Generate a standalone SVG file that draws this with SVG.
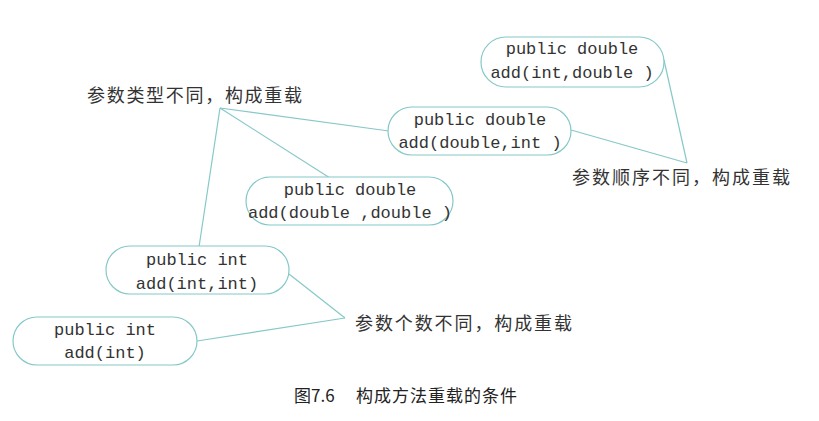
<svg xmlns="http://www.w3.org/2000/svg" width="819" height="421" viewBox="0 0 819 421">
<style>
.node rect{fill:#fff;stroke:#86c8c8;stroke-width:1.2}
.code{font-family:"Liberation Mono","DejaVu Sans Mono",monospace;font-size:17px;fill:#333;text-anchor:middle}
.lbl{font-family:"Noto Sans CJK SC",sans-serif;font-size:18px;fill:#333}
.cap{font-family:"Noto Sans CJK SC",sans-serif;font-size:17px;fill:#222}
#connectors line{stroke:#86c8c8;stroke-width:1.2}
</style>
<rect width="819" height="421" fill="#fff"/>
<g id="connectors">
<line x1="220" y1="108" x2="389" y2="131"/>
<line x1="220" y1="108" x2="330" y2="178"/>
<line x1="220" y1="108" x2="199" y2="247"/>
<line x1="571" y1="130" x2="687" y2="163"/>
<line x1="664" y1="60" x2="687" y2="163"/>
<line x1="289" y1="274" x2="345" y2="318"/>
<line x1="197" y1="341" x2="345" y2="318"/>
</g>
<g id="n1" class="node"><rect x="481" y="37" width="183" height="50" rx="25"/><text class="code" x="572" y="54">public double</text><text class="code" x="572" y="78">add(int,double )</text></g>
<g id="n2" class="node"><rect x="388" y="107" width="183" height="48" rx="24"/><text class="code" x="480" y="125">public double</text><text class="code" x="480" y="148">add(double,int )</text></g>
<g id="n3" class="node"><rect x="246" y="177" width="207" height="48" rx="24"/><text class="code" x="350" y="195">public double</text><text class="code" x="350" y="218">add(double ,double )</text></g>
<g id="n4" class="node"><rect x="106" y="246" width="183" height="48" rx="24"/><text class="code" x="197" y="265">public int</text><text class="code" x="197" y="289">add(int,int)</text></g>
<g id="n5" class="node"><rect x="13" y="317" width="184" height="48" rx="24"/><text class="code" x="105" y="335">public int</text><text class="code" x="105" y="358">add(int)</text></g>
<g id="l1"><text class="lbl" x="87" y="102" textLength="215">参数类型不同，构成重载</text></g>
<g id="l2"><text class="lbl" x="572" y="184" textLength="218">参数顺序不同，构成重载</text></g>
<g id="l3"><text class="lbl" x="355" y="330" textLength="217">参数个数不同，构成重载</text></g>
<g id="caption"><text class="cap" x="294" y="402">图7.6</text><text class="cap" x="356" y="402" textLength="161">构成方法重载的条件</text></g>
</svg>
